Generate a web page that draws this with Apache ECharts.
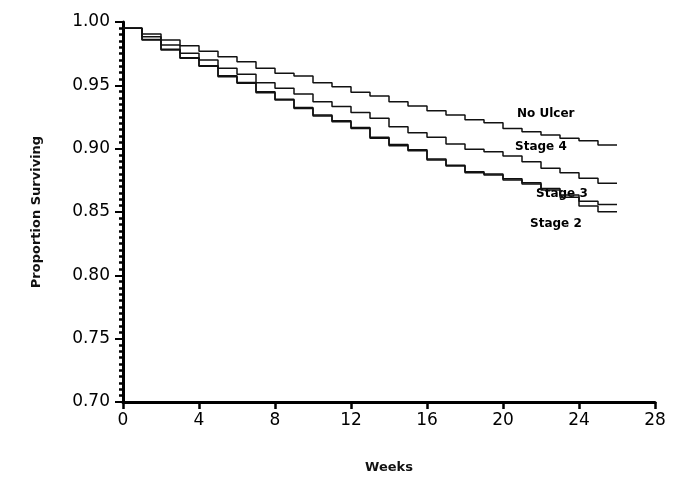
<!DOCTYPE html>
<html>
<head>
<meta charset="utf-8">
<script src="https://cdn.jsdelivr.net/npm/echarts@6/dist/echarts.min.js"></script>
<style>
  html, body { margin: 0; padding: 0; background: #fff; }
</style>
</head>
<body>
<div id="chart" style="width:675px;height:480px"></div>
<script>
// weeks (each value holds until the next week)
const weeks = [0, 1, 2, 3, 4, 5, 6, 7, 8, 9, 10, 11, 12, 13, 14, 15, 16, 17, 18, 19, 20, 21, 22, 23, 24, 25, 26]

const noUlcer = [0.995, 0.9905, 0.9858, 0.9813, 0.977, 0.9726, 0.9687, 0.9634, 0.9595, 0.9574, 0.9521, 0.9489, 0.9445,
  0.9416, 0.9371, 0.9337, 0.930, 0.9266, 0.9229, 0.9205, 0.916, 0.9134, 0.9108, 0.9082, 0.9063, 0.9029, 0.9029]
const stage4 = [0.995, 0.9884, 0.9818, 0.9753, 0.970, 0.9634, 0.9587, 0.9521, 0.9476, 0.9432, 0.9371, 0.9332, 0.9285,
  0.924, 0.9174, 0.9126, 0.909, 0.9037, 0.8995, 0.8976, 0.8942, 0.8897, 0.8845, 0.881, 0.8766, 0.8726, 0.8726]
const stage3 = [0.995, 0.9862, 0.9785, 0.9718, 0.9655, 0.9575, 0.9522, 0.945, 0.939, 0.9325, 0.9265, 0.922, 0.9168,
  0.909, 0.9032, 0.8992, 0.8918, 0.887, 0.8818, 0.880, 0.8762, 0.873, 0.8685, 0.8635, 0.8585, 0.856, 0.856]
const stage2 = [0.995, 0.9858, 0.9779, 0.9713, 0.965, 0.9568, 0.9516, 0.9442, 0.9384, 0.9318, 0.9258, 0.9213, 0.916,
  0.9082, 0.9024, 0.8984, 0.891, 0.8863, 0.881, 0.8792, 0.8753, 0.8721, 0.8674, 0.8616, 0.8547, 0.8502, 0.8502]

const seriesNames = ['No Ulcer', 'Stage 4', 'Stage 3', 'Stage 2']
const seriesValues = [noUlcer, stage4, stage3, stage2]

const myChart = echarts.init(document.getElementById('chart'))

const font = 'DejaVu Sans'

const option = {
  animation: false,
  grid: { left: 123, right: 20, top: 22, bottom: 78 },
  xAxis: {
    type: 'value',
    min: 0,
    max: 28,
    interval: 4,
    name: 'Weeks',
    nameLocation: 'middle',
    nameGap: 59,
    nameTextStyle: { color: '#111', fontFamily: font, fontSize: 13, fontWeight: 'bold' },
    axisLine: { lineStyle: { color: '#000', width: 3 } },
    axisTick: { length: 7, lineStyle: { color: '#000', width: 2.5 } },
    axisLabel: { color: '#000', fontFamily: font, fontSize: 17, margin: 10 },
    splitLine: { show: false }
  },
  yAxis: {
    type: 'value',
    min: 0.70,
    max: 1.00,
    interval: 0.05,
    name: 'Proportion Surviving',
    nameLocation: 'middle',
    nameGap: 80,
    nameTextStyle: { color: '#111', fontFamily: font, fontSize: 13, fontWeight: 'bold' },
    axisLine: { lineStyle: { color: '#000', width: 3 } },
    axisTick: { length: 8, lineStyle: { color: '#000', width: 2 } },
    minorTick: { show: true, splitNumber: 10, length: 4, lineStyle: { color: '#000', width: 2.5 } },
    axisLabel: {
      color: '#000', fontFamily: font, fontSize: 17, margin: 13,
      formatter: v => v.toFixed(2)
    },
    splitLine: { show: false }
  },
  series: seriesValues.map((vals, i) => ({
    name: seriesNames[i],
    type: 'line',
    step: 'end',
    showSymbol: false,
    lineStyle: { color: '#111', width: 1.5 },
    data: weeks.map((w, j) => [w, vals[j]])
  })),
  graphic: [
    { type: 'text', left: 517, top: 108, style: { text: 'No Ulcer', font: 'bold 12px ' + font, fill: '#000' } },
    { type: 'text', left: 515, top: 141, style: { text: 'Stage 4', font: 'bold 12px ' + font, fill: '#000' } },
    { type: 'text', left: 536, top: 188, style: { text: 'Stage 3', font: 'bold 12px ' + font, fill: '#000' } },
    { type: 'text', left: 530, top: 218, style: { text: 'Stage 2', font: 'bold 12px ' + font, fill: '#000' } }
  ]
}

option && myChart.setOption(option)
</script>
</body>
</html>
